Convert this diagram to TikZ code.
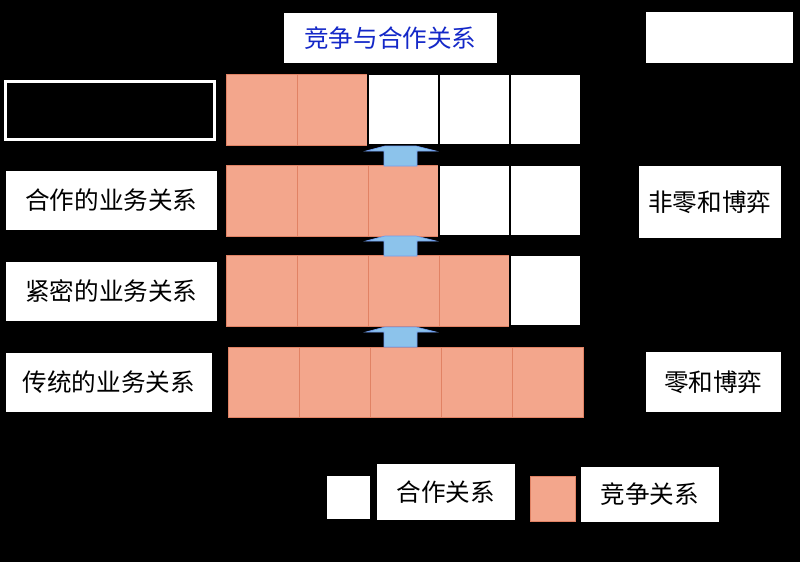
\documentclass[tikz,border=0pt]{standalone}
\usepackage{fontspec}
\setmainfont{Noto Sans CJK SC}
\usetikzlibrary{decorations.pathreplacing}
\definecolor{org}{RGB}{243,166,140}
\definecolor{orgd}{RGB}{225,130,100}
\definecolor{arrowblue}{RGB}{140,195,235}
\definecolor{titleblue}{RGB}{20,40,200}
\tikzset{
 wbox/.style={draw=black,fill=white,font=\fontsize{14}{16}\selectfont},
 ocell/.style={draw=orgd,fill=org},
 wcell/.style={draw=black,line width=0.8pt,fill=white},
 uparrow/.style={fill=arrowblue,draw=arrowblue!80!blue}
}
\begin{document}
\begin{tikzpicture}[x=0.02cm,y=-0.02cm]
\fill[black] (0,0) rectangle (800,562);
\useasboundingbox (0,0) rectangle (800,562);
% title
\node[wbox,minimum width=214*0.02cm,minimum height=51*0.02cm,text=titleblue,anchor=north west] (title) at (283,12) {竞争与合作关系};
\node[fill=white,minimum width=147*0.02cm,minimum height=51*0.02cm,anchor=north west] (tr) at (646,12) {};
% labels
\node[draw=white,line width=1.5pt,fill=black,text=black,font=\fontsize{14}{16}\selectfont,minimum width=209*0.02cm,minimum height=58*0.02cm,anchor=north west] (l1) at (4,80) {竞合的业务关系};
\node[wbox,minimum width=212*0.02cm,minimum height=60*0.02cm,anchor=north west] (l2) at (5,170) {合作的业务关系};
\node[wbox,minimum width=212*0.02cm,minimum height=60*0.02cm,anchor=north west] (l3) at (5,261) {紧密的业务关系};
\node[wbox,minimum width=207*0.02cm,minimum height=60*0.02cm,anchor=north west] (l4) at (5,352) {传统的业务关系};
% cells
\foreach \i in {0,...,4}{
 \pgfmathsetmacro\xa{226+71*\i}
 \pgfmathsetmacro\xb{\xa+71}
 \ifnum\i<2 \draw[ocell] (\xa,74) rectangle (\xb,145); \else \draw[wcell] (\xa,74) rectangle (\xb,145); \fi
 \ifnum\i<3 \draw[ocell] (\xa,165) rectangle (\xb,236); \else \draw[wcell] (\xa,165) rectangle (\xb,236); \fi
 \ifnum\i<4 \draw[ocell] (\xa,255) rectangle (\xb,326); \else \draw[wcell] (\xa,255) rectangle (\xb,326); \fi
 \pgfmathsetmacro\xc{228+71*\i}
 \pgfmathsetmacro\xd{\xc+71}
 \draw[ocell] (\xc,347) rectangle (\xd,417);
}
% arrows
\foreach \y in {146,236,327}{
 \draw[uparrow] (384,\y+20) -- (384,\y+5) -- (366,\y+5) -- (385,\y) -- (416,\y) -- (436,\y+5) -- (417,\y+5) -- (417,\y+20) -- cycle;
}
% brace
\coordinate (bt) at (604,80);
\coordinate (bb) at (604,315);
\draw[black,line width=1.5pt,decorate,decoration={brace,amplitude=10pt}] (bt) -- (bb);
\node[wbox,minimum width=143*0.02cm,minimum height=73*0.02cm,anchor=north west] (nz) at (638,165) {非零和博弈};
\node[wbox,minimum width=136*0.02cm,minimum height=61*0.02cm,anchor=north west] (z) at (645,351) {零和博弈};
% legend
\draw[wcell] (326,475) rectangle (371,520);
\node[wbox,minimum width=139*0.02cm,minimum height=57*0.02cm,anchor=north west] (lg1) at (376,463) {合作关系};
\draw[ocell] (530,476) rectangle (575,521);
\node[wbox,minimum width=139*0.02cm,minimum height=56*0.02cm,anchor=north west] (lg2) at (580,466) {竞争关系};
\end{tikzpicture}
\end{document}
